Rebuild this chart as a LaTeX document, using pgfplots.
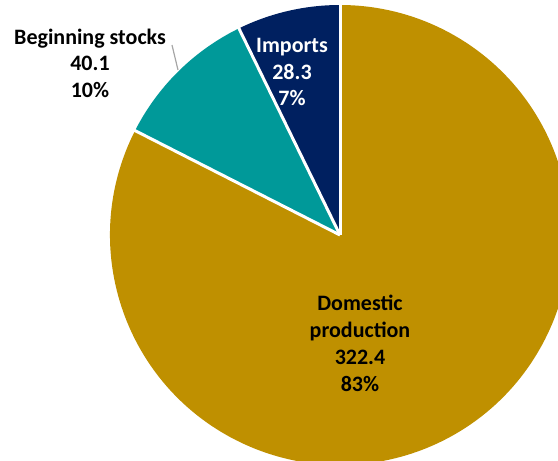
\documentclass[border=0pt]{standalone}
\usepackage{pgfplots}
\pgfplotsset{compat=1.18}
\usepackage{fontspec}
\setmainfont{Carlito}
\definecolor{gold}{HTML}{BF9000}
\definecolor{teal2}{HTML}{009999}
\definecolor{navy}{HTML}{002060}
\definecolor{leader}{HTML}{A6A6A6}
% values
\def\vDom{322.4}
\def\vStk{40.1}
\def\vImp{28.3}
\pgfmathsetmacro{\vTot}{\vDom+\vStk+\vImp}
\pgfmathsetmacro{\aImp}{90+360*\vImp/\vTot}
\pgfmathsetmacro{\aStk}{\aImp+360*\vStk/\vTot}
\def\cx{340}
\def\cy{226}
\begin{document}
\begin{tikzpicture}
\begin{axis}[
  scale only axis, width=558pt, height=461pt,
  xmin=0, xmax=558, ymin=0, ymax=461,
  hide axis, clip=true,
]
\fill[gold]  (axis cs:\cx,\cy) -- ++(\aStk:230pt) arc[start angle=\aStk, end angle=450, radius=230pt] -- cycle;
\fill[teal2] (axis cs:\cx,\cy) -- ++(\aImp:230pt) arc[start angle=\aImp, end angle=\aStk, radius=230pt] -- cycle;
\fill[navy]  (axis cs:\cx,\cy) -- ++(90:230pt) arc[start angle=90, end angle=\aImp, radius=230pt] -- cycle;
\draw[white, line width=3pt] (axis cs:\cx,\cy) -- ++(90:231pt);
\draw[white, line width=3pt] (axis cs:\cx,\cy) -- ++(\aImp:231pt);
\draw[white, line width=3pt] (axis cs:\cx,\cy) -- ++(\aStk:231pt);
\draw[leader, line width=1.2pt] (axis cs:172,416) -- (axis cs:178,391);
\node[align=center, font=\bfseries\fontsize{22}{26.5}\selectfont, text=black] at (axis cs:90,398) {Beginning stocks\\40.1\\10\%};
\node[align=center, font=\bfseries\fontsize{22}{26.5}\selectfont, text=white] at (axis cs:292,389) {Imports\\28.3\\7\%};
\node[align=center, font=\bfseries\fontsize{22}{27}\selectfont, text=black] at (axis cs:360,118) {Domestic\\production\\322.4\\83\%};
\end{axis}
\pgfresetboundingbox
\path (current axis.south west) rectangle (current axis.north east);
\end{tikzpicture}
\end{document}
